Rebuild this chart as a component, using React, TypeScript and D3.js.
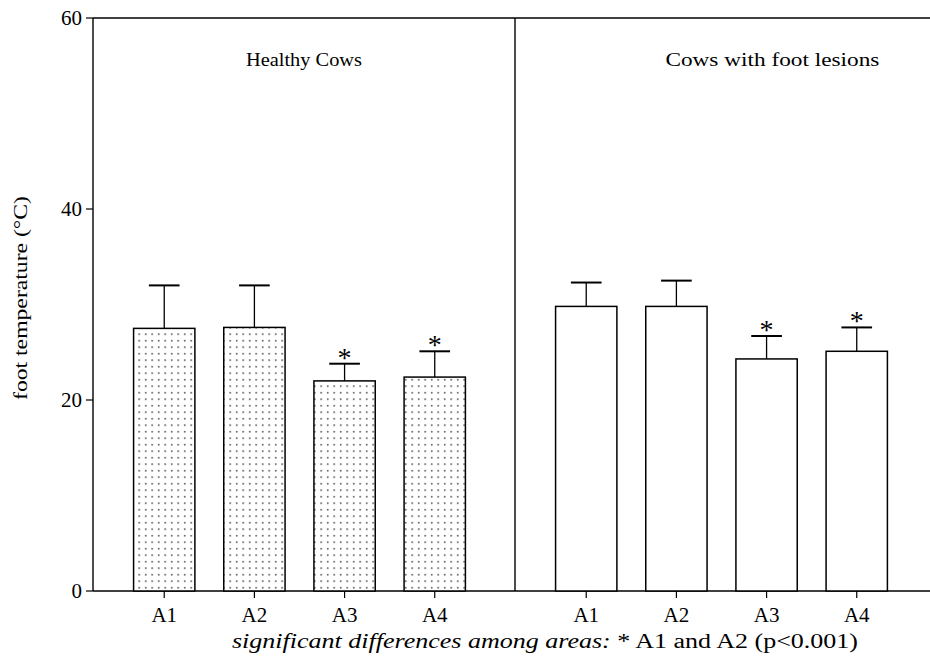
import React from "react";
import * as d3 from "d3";

const groups = ["Healthy Cows", "Cows with foot lesions"];
const areas = ["A1", "A2", "A3", "A4"];
const healthyMeans = [27.5, 27.6, 22.0, 22.4];
const healthyErrors = [4.5, 4.4, 1.8, 2.7];
const lesionMeans = [29.8, 29.8, 24.3, 25.1];
const lesionErrors = [2.5, 2.7, 2.4, 2.5];
const significant = [false, false, true, true];
const yTicks = [0, 20, 40, 60];

const width = 930;
const height = 664;
const left = 93;
const top = 18;
const bottom = 591;
const font = "Liberation Serif, Times New Roman, DejaVu Serif, serif";

const App: React.FC = () => {
  const yScale = d3.scaleLinear().domain([0, 60]).range([bottom, top]);

  const groupScale = d3
    .scaleBand<string>()
    .domain(groups)
    .range([left, width + 7]);

  const areaScale = d3
    .scaleBand<string>()
    .domain(areas)
    .range([0, groupScale.bandwidth()])
    .paddingInner(0.32)
    .paddingOuter(0.5)
    .align(0.45);

  // title position within panel and stretched width (the scan is wide)
  const series = [
    { group: groups[0], means: healthyMeans, errors: healthyErrors, dotted: true, labelPos: 0.5, labelLen: 116 },
    { group: groups[1], means: lesionMeans, errors: lesionErrors, dotted: false, labelPos: 0.61, labelLen: 214 },
  ];

  const bw = areaScale.bandwidth();

  return (
    <svg
      width={width}
      height={height}
      style={{ position: "absolute", left: 0, top: 0, background: "#fff", fontFamily: font }}
    >
      <defs>
        <pattern id="dots" width={6.5} height={6.5} patternUnits="userSpaceOnUse">
          <rect width={6.5} height={6.5} fill="#fff" />
          <rect x={2} y={2} width={1.4} height={1.4} fill="#222" />
        </pattern>
      </defs>

      {/* frame */}
      <line x1={left} x2={width} y1={top} y2={top} stroke="#000" strokeWidth={1.4} />
      <line x1={left} x2={width} y1={bottom} y2={bottom} stroke="#000" strokeWidth={1.6} />
      <line x1={left} x2={left} y1={top} y2={bottom} stroke="#000" strokeWidth={1.4} />
      <line
        x1={groupScale(groups[1])!}
        x2={groupScale(groups[1])!}
        y1={top}
        y2={bottom}
        stroke="#000"
        strokeWidth={1.4}
      />

      {/* y axis */}
      {yTicks.map((t) => (
        <g key={t}>
          <line x1={left - 7} x2={left} y1={yScale(t)} y2={yScale(t)} stroke="#000" strokeWidth={1.2} />
          <text x={left - 11} y={yScale(t) + 7} fontSize={21} textAnchor="end">
            {t}
          </text>
        </g>
      ))}
      <text
        transform={`translate(27,298) rotate(-90)`}
        fontSize={18}
        textAnchor="middle"
        textLength={204}
        lengthAdjust="spacingAndGlyphs"
      >
        foot temperature (°C)
      </text>

      {series.map((s) => {
        const gx = groupScale(s.group)!;
        return (
          <g key={s.group}>
            <text
              x={gx + groupScale.bandwidth() * s.labelPos}
              y={66}
              fontSize={19}
              textAnchor="middle"
              textLength={s.labelLen}
              lengthAdjust="spacingAndGlyphs"
            >
              {s.group}
            </text>
            {areas.map((a, i) => {
              const x = gx + areaScale(a)!;
              const cx = x + bw / 2;
              const yTop = yScale(s.means[i]);
              const yCap = yScale(s.means[i] + s.errors[i]);
              return (
                <g key={a}>
                  <line x1={cx} x2={cx} y1={yTop} y2={yCap} stroke="#000" strokeWidth={1.3} />
                  <line x1={cx - bw / 4} x2={cx + bw / 4} y1={yCap} y2={yCap} stroke="#000" strokeWidth={2} />
                  <rect
                    x={x}
                    y={yTop}
                    width={bw}
                    height={bottom - yTop}
                    fill={s.dotted ? "url(#dots)" : "#fff"}
                    stroke="#000"
                    strokeWidth={1.5}
                  />
                  {significant[i] && (
                    <text x={cx} y={yCap + 3} fontSize={28} textAnchor="middle">
                      *
                    </text>
                  )}
                  <line x1={cx} x2={cx} y1={bottom} y2={bottom + 7} stroke="#000" strokeWidth={1.2} />
                  <text x={cx} y={bottom + 31} fontSize={21} textAnchor="middle">
                    {a}
                  </text>
                </g>
              );
            })}
          </g>
        );
      })}

      <text
        x={545}
        y={648}
        fontSize={20}
        textAnchor="middle"
        textLength={626}
        lengthAdjust="spacingAndGlyphs"
      >
        <tspan fontStyle="italic">significant differences among areas:</tspan>
        <tspan> * A1 and A2 (p&lt;0.001)</tspan>
      </text>
    </svg>
  );
};

export default App;
